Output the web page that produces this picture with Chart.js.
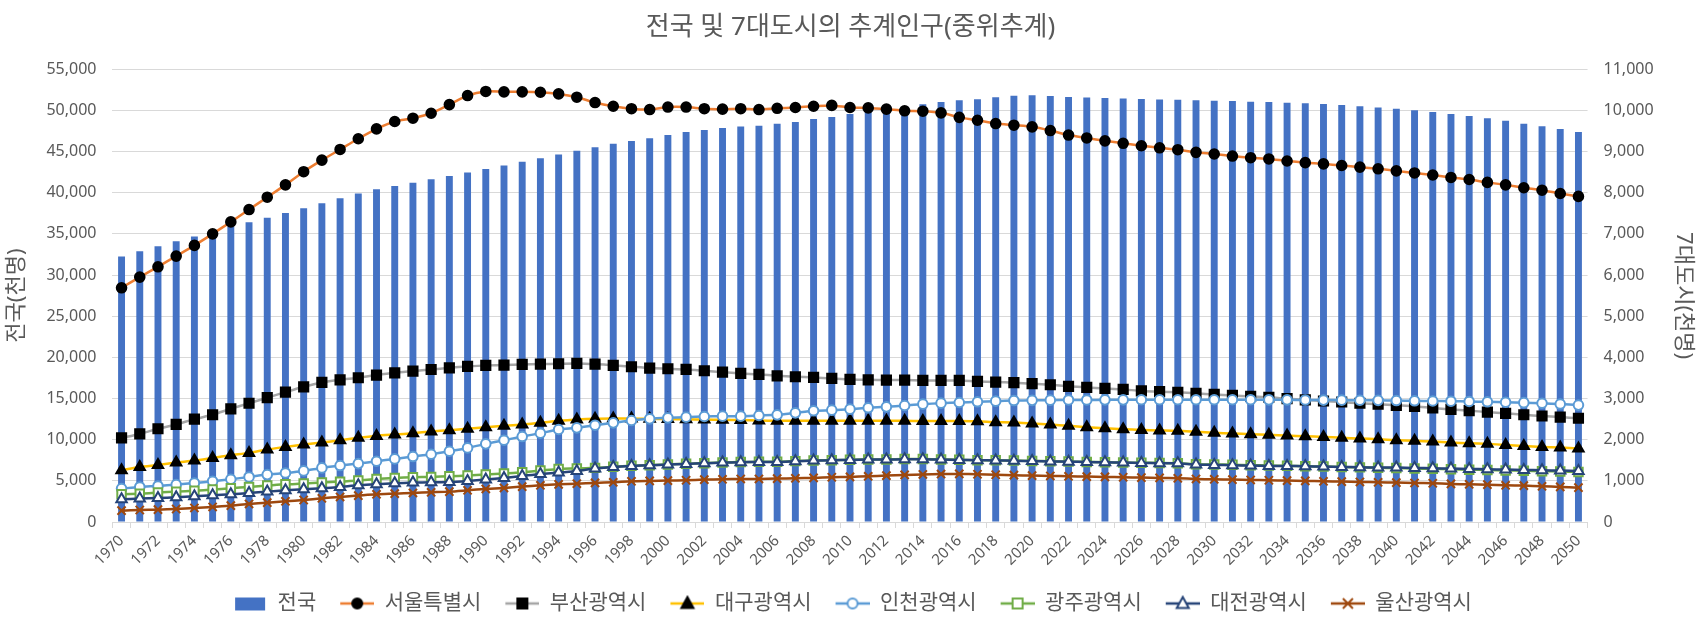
<!DOCTYPE html>
<html lang="ko">
<head>
<meta charset="utf-8">
<title>전국 및 7대도시의 추계인구(중위추계)</title>
<script src="https://cdn.jsdelivr.net/npm/chart.js@4.4.0/dist/chart.umd.min.js"></script>
<style>
  html, body { margin: 0; padding: 0; background: #fff; }
  #wrap { position: relative; width: 1701px; height: 629px; }
</style>
</head>
<body>
<div id="wrap"><canvas id="ctx-pop"></canvas></div>
<script>
// years 1970 ~ 2050
const years = [];
for (let y = 1970; y <= 2050; y++) years.push(String(y));

// 전국 (천명), left axis
const nation = [
  32240, 32880, 33500, 34100, 34690, 35280, 35850, 36410, 36970, 37530,
  38120, 38720, 39330, 39910, 40410, 40810, 41210, 41620, 42030, 42450,
  42870, 43300, 43750, 44190, 44640, 45090, 45525, 45950, 46290, 46620,
  47010, 47360, 47620, 47860, 48040, 48140, 48370, 48600, 48950, 49180,
  49550, 49940, 50200, 50430, 50750, 51010, 51220, 51360, 51590, 51760,
  51840, 51740, 51630, 51560, 51500, 51450, 51380, 51330, 51290, 51220,
  51170, 51130, 51060, 51010, 50930, 50850, 50770, 50650, 50490, 50360,
  50190, 50000, 49800, 49560, 49310, 49030, 48740, 48380, 48060, 47730,
  47360
];

// 7대도시 (천명), right axis
const seoul = [
  5690, 5950, 6200, 6460, 6720, 7000, 7290, 7590, 7890, 8190,
  8510, 8790, 9050, 9310, 9550, 9730, 9810, 9930, 10140, 10360,
  10460, 10450, 10450, 10440, 10400, 10320, 10190, 10100, 10040, 10020,
  10080, 10080, 10040, 10030, 10040, 10020, 10050, 10070, 10100, 10120,
  10070, 10060, 10030, 9990, 9980, 9940, 9830, 9760, 9680, 9640,
  9600, 9510, 9400, 9330, 9260, 9200, 9140, 9090, 9045, 8980,
  8940, 8890, 8850, 8820, 8770, 8730, 8700, 8660, 8620, 8580,
  8530, 8480, 8430, 8370, 8320, 8250, 8190, 8120, 8060, 7980,
  7910
];
const busan = [
  2045, 2140, 2265, 2370, 2500, 2605, 2750, 2885, 3020, 3155,
  3285, 3390, 3455, 3505, 3570, 3625, 3665, 3705, 3745, 3780,
  3805, 3812, 3828, 3836, 3844, 3852, 3836, 3804, 3771, 3739,
  3723, 3706, 3674, 3641, 3609, 3585, 3552, 3528, 3512, 3487,
  3463, 3455, 3447, 3447, 3439, 3439, 3439, 3414, 3400, 3385,
  3360, 3335, 3295, 3270, 3245, 3220, 3185, 3165, 3150, 3125,
  3100, 3075, 3050, 3030, 2995, 2965, 2940, 2915, 2885, 2860,
  2835, 2810, 2770, 2735, 2705, 2670, 2640, 2605, 2575, 2550,
  2520
];
const daegu = [
  1257, 1338, 1387, 1444, 1492, 1557, 1622, 1679, 1760, 1825,
  1882, 1930, 1987, 2044, 2092, 2125, 2157, 2198, 2230, 2263,
  2303, 2336, 2368, 2409, 2457, 2490, 2510, 2515, 2512, 2508,
  2500, 2495, 2490, 2482, 2475, 2465, 2460, 2457, 2457, 2457,
  2457, 2457, 2457, 2457, 2455, 2455, 2452, 2445, 2425, 2417,
  2393, 2368, 2336, 2303, 2279, 2255, 2235, 2225, 2214, 2190,
  2166, 2149, 2133, 2117, 2100, 2084, 2068, 2044, 2028, 2011,
  1987, 1971, 1955, 1930, 1914, 1898, 1873, 1849, 1825, 1809,
  1784
];
const incheon = [
  811, 852, 876, 908, 949, 989, 1038, 1095, 1152, 1192,
  1241, 1314, 1371, 1419, 1476, 1533, 1590, 1646, 1719, 1800,
  1898, 1987, 2076, 2157, 2247, 2287, 2352, 2409, 2466, 2506,
  2530, 2547, 2563, 2571, 2571, 2587, 2603, 2652, 2701, 2717,
  2741, 2774, 2798, 2830, 2863, 2887, 2903, 2920, 2936, 2950,
  2955, 2960, 2965, 2965, 2968, 2968, 2970, 2970, 2970, 2970,
  2970, 2970, 2970, 2968, 2968, 2965, 2962, 2960, 2958, 2955,
  2950, 2945, 2940, 2935, 2928, 2920, 2910, 2900, 2885, 2865,
  2840
];
const gwangju = [
  673, 689, 714, 738, 762, 787, 819, 852, 884, 916,
  933, 957, 981, 1006, 1046, 1071, 1087, 1095, 1111, 1127,
  1152, 1176, 1208, 1249, 1290, 1300, 1315, 1340, 1365, 1380,
  1398, 1414, 1430, 1447, 1455, 1463, 1463, 1479, 1495, 1503,
  1512, 1520, 1520, 1528, 1528, 1520, 1512, 1503, 1500, 1492,
  1484, 1476, 1468, 1460, 1452, 1444, 1438, 1436, 1430, 1405,
  1398, 1390, 1380, 1372, 1365, 1355, 1346, 1336, 1327, 1318,
  1310, 1300, 1292, 1282, 1272, 1262, 1253, 1244, 1235, 1226,
  1217
];
const daejeon = [
  551, 568, 584, 600, 624, 649, 673, 706, 738, 770,
  795, 819, 852, 892, 916, 941, 957, 965, 973, 998,
  1030, 1071, 1119, 1168, 1200, 1241, 1298, 1338, 1363, 1379,
  1395, 1411, 1427, 1444, 1452, 1460, 1460, 1476, 1492, 1500,
  1509, 1517, 1517, 1525, 1525, 1517, 1509, 1500, 1495, 1488,
  1480, 1472, 1465, 1458, 1450, 1444, 1436, 1430, 1425, 1395,
  1387, 1379, 1371, 1363, 1363, 1355, 1346, 1338, 1330, 1322,
  1322, 1314, 1306, 1298, 1290, 1282, 1273, 1265, 1257, 1249,
  1241
];
const ulsan = [
  276, 292, 300, 316, 341, 365, 397, 438, 470, 503,
  535, 576, 608, 641, 673, 689, 706, 722, 738, 770,
  803, 827, 860, 892, 915, 930, 950, 965, 989, 998,
  1006, 1014, 1030, 1038, 1046, 1046, 1054, 1062, 1071, 1087,
  1095, 1111, 1127, 1144, 1155, 1165, 1168, 1160, 1148, 1138,
  1127, 1119, 1111, 1103, 1095, 1087, 1079, 1071, 1062, 1046,
  1038, 1030, 1022, 1014, 1006, 998, 989, 981, 973, 965,
  957, 949, 941, 925, 916, 908, 892, 884, 868, 852,
  835
];

const leftTicks = { min: 0, max: 55000, step: 5000 };
const rightTicks = { min: 0, max: 11000, step: 1000 };

const FONT = "'Noto Sans', 'Noto Sans CJK KR', sans-serif";
const TEXT = '#595959';
const GRID = '#d9d9d9';

// legend icons: short line with the series marker in the middle
// (canvas is 38 wide, icon sits in the right 34 px)
function makeIcon(kind, lineColor, fill, stroke) {
  const c = document.createElement('canvas');
  c.width = 38; c.height = 18;
  const g = c.getContext('2d');
  const x0 = 4, cx = x0 + 17, cy = 9;
  if (kind === 'bar') {
    g.fillStyle = fill;
    g.fillRect(x0 + 2, 3, 30, 13);
    return c;
  }
  g.strokeStyle = lineColor;
  g.lineWidth = 2.5;
  g.beginPath(); g.moveTo(x0, cy); g.lineTo(x0 + 34, cy); g.stroke();
  g.fillStyle = fill;
  g.strokeStyle = stroke;
  g.lineWidth = 2;
  g.beginPath();
  if (kind === 'circle') {
    g.arc(cx, cy, 5, 0, Math.PI * 2);
    g.fill(); g.stroke();
  } else if (kind === 'rect') {
    g.rect(cx - 5, cy - 5, 10, 10);
    g.fill(); g.stroke();
  } else if (kind === 'triangle') {
    g.moveTo(cx, cy - 6.5); g.lineTo(cx + 6, cy + 4.5); g.lineTo(cx - 6, cy + 4.5); g.closePath();
    g.fill(); g.stroke();
  } else if (kind === 'x') {
    g.moveTo(cx - 5, cy - 5); g.lineTo(cx + 5, cy + 5);
    g.moveTo(cx + 5, cy - 5); g.lineTo(cx - 5, cy + 5);
    g.stroke();
  }
  return c;
}

function lineSet(label, data, color, style, radius, bg, border, order) {
  return {
    type: 'line',
    label: label,
    data: data,
    yAxisID: 'y1',
    borderColor: color,
    borderWidth: 2.5,
    tension: 0.25,
    pointStyle: style,
    pointRadius: radius,
    pointBackgroundColor: bg,
    pointBorderColor: border,
    pointBorderWidth: 2,
    order: order
  };
}

const datasets = [
  {
    type: 'bar', label: '전국', data: nation, yAxisID: 'y',
    backgroundColor: '#4472c4', barPercentage: 0.38, categoryPercentage: 1, order: 10
  },
  lineSet('서울특별시', seoul, '#ed7d31', 'circle', 4.8, '#000', '#000', 7),
  lineSet('부산광역시', busan, '#a5a5a5', 'rect', 6.5, '#000', '#000', 6),
  lineSet('대구광역시', daegu, '#ffc000', 'triangle', 6, '#000', '#000', 5),
  lineSet('인천광역시', incheon, '#5b9bd5', 'circle', 4.8, '#fff', '#5b9bd5', 4),
  lineSet('광주광역시', gwangju, '#70ad47', 'rect', 6, '#fff', '#70ad47', 3),
  lineSet('대전광역시', daejeon, '#264478', 'triangle', 6, '#fff', '#264478', 2),
  lineSet('울산광역시', ulsan, '#9e480e', 'crossRot', 5.8, '#9e480e', '#9e480e', 1)
];

const icons = [
  makeIcon('bar', null, '#4472c4'),
  makeIcon('circle', '#ed7d31', '#000', '#000'),
  makeIcon('rect', '#a5a5a5', '#000', '#000'),
  makeIcon('triangle', '#ffc000', '#000', '#000'),
  makeIcon('circle', '#5b9bd5', '#fff', '#5b9bd5'),
  makeIcon('rect', '#70ad47', '#fff', '#70ad47'),
  makeIcon('triangle', '#264478', '#fff', '#264478'),
  makeIcon('x', '#9e480e', '#9e480e', '#9e480e')
];

const fmt = (v) => Number(v).toLocaleString('en-US');

new Chart(document.getElementById('ctx-pop'), {
  type: 'bar',
  data: { labels: years, datasets: datasets },
  options: {
    responsive: true,
    maintainAspectRatio: false,
    animation: false,
    devicePixelRatio: 1,
    layout: { padding: { left: 0, right: 0, top: 0, bottom: 5 } },
    plugins: {
      title: {
        display: true,
        text: '전국 및 7대도시의 추계인구(중위추계)',
        color: TEXT,
        font: { family: FONT, size: 26, weight: 'normal' },
        padding: { top: 12, bottom: 26 }
      },
      legend: {
        position: 'bottom',
        labels: {
          color: TEXT,
          font: { family: FONT, size: 21 },
          usePointStyle: true,
          pointStyleWidth: 38,
          padding: 20,
          generateLabels: (chart) => chart.data.datasets.map((ds, i) => ({
            text: ds.label,
            pointStyle: icons[i],
            fillStyle: 'transparent',
            strokeStyle: 'transparent',
            lineWidth: 0,
            fontColor: TEXT,
            hidden: false,
            datasetIndex: i
          }))
        }
      },
      tooltip: { enabled: false }
    },
    scales: {
      x: {
        offset: true,
        grid: { display: true, offset: true, drawOnChartArea: false, drawTicks: true, tickLength: 6, color: GRID },
        border: { color: GRID },
        ticks: {
          color: TEXT,
          font: { family: FONT, size: 15 },
          autoSkip: false,
          minRotation: 45,
          maxRotation: 45,
          padding: 4,
          callback: (v, i) => (i % 2 === 0 ? years[i] : '')
        }
      },
      y: {
        position: 'left',
        min: leftTicks.min,
        max: leftTicks.max,
        grid: { color: GRID, drawTicks: false },
        border: { display: false },
        ticks: { stepSize: leftTicks.step, color: TEXT, font: { family: FONT, size: 16 }, padding: 16, callback: fmt },
        title: {
          display: true, text: '전국(천명)', color: TEXT,
          font: { family: FONT, size: 22 }, padding: { top: 4, bottom: 0 }
        }
      },
      y1: {
        position: 'right',
        min: rightTicks.min,
        max: rightTicks.max,
        grid: { drawOnChartArea: false, drawTicks: false },
        border: { display: false },
        ticks: { stepSize: rightTicks.step, color: TEXT, font: { family: FONT, size: 16 }, padding: 16, callback: fmt },
        title: {
          display: true, text: '7대도시(천명)', color: TEXT,
          font: { family: FONT, size: 22 }, padding: { top: 5, bottom: 0 }
        }
      }
    }
  }
});
</script>
</body>
</html>
